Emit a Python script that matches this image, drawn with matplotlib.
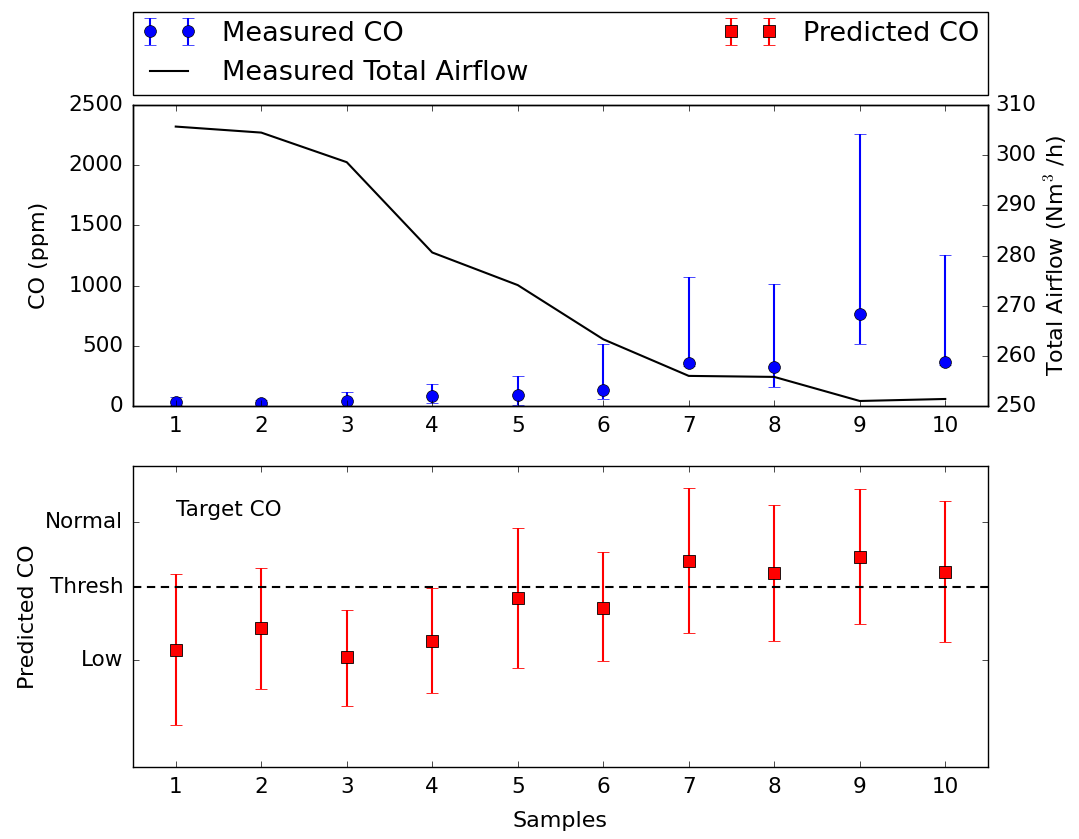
import matplotlib
matplotlib.use("Agg")
import matplotlib.pyplot as plt
import numpy as np

plt.style.use("classic")
plt.rcParams["font.family"] = ["DejaVu Sans"]
plt.rcParams["figure.facecolor"] = "white"
plt.rcParams["savefig.facecolor"] = "white"

samples = [1, 2, 3, 4, 5, 6, 7, 8, 9, 10]

# Measured CO (ppm) with asymmetric error ranges
co_measured = [30, 28, 40, 80, 91, 133, 354, 327, 762, 363]
co_err_low = [25, 20, 38, 53, 85, 78, 22, 169, 250, 25]
co_err_high = [45, 20, 74, 100, 158, 379, 720, 689, 1500, 894]

# Measured total airflow (Nm3/h)
airflow = [305.7, 304.5, 298.6, 280.6, 274.1, 263.3, 256.0, 255.8, 251.0, 251.4]

# Predicted CO level (relative index) with asymmetric error ranges
co_predicted = [38.9, 46.1, 36.4, 42.0, 56.3, 52.9, 68.5, 64.5, 69.9, 64.8]
pred_top = [64.0, 66.2, 52.1, 59.6, 79.5, 71.3, 92.8, 86.9, 92.4, 88.3]
pred_bottom = [14.0, 25.9, 20.4, 24.6, 32.8, 35.1, 44.6, 42.0, 47.5, 41.5]

level_ticks = [35.5, 59.9, 81.3]
level_labels = ["Low", "Thresh", "Normal"]
threshold = 59.9

TICK_FS = 15.5
LABEL_FS = 16

fig = plt.figure(figsize=(10.79, 8.39), dpi=100)
W, H = 1079, 839
left = 133 / W
width = (988 - 133) / W
ax1 = fig.add_axes([left, (H - 406) / H, width, 301 / H])
ax3 = fig.add_axes([left, (H - 767) / H, width, 301 / H])

# --- top panel: measured CO and airflow
h_co = ax1.errorbar(samples, co_measured, yerr=[co_err_low, co_err_high],
                    fmt="o", color="b", ecolor="b", markersize=8.5,
                    markeredgecolor="k", markeredgewidth=0.5,
                    elinewidth=1.5, capsize=4, capthick=1,
                    label="Measured CO")
ax1.set_xlim(0.5, 10.5)
ax1.set_ylim(0, 2500)
ax1.set_xticks(samples)
ax1.set_yticks([0, 500, 1000, 1500, 2000, 2500])
ax1.set_ylabel("CO (ppm)", fontsize=LABEL_FS, labelpad=14)
ax1.tick_params(labelsize=TICK_FS, pad=7)

ax2 = ax1.twinx()
h_air, = ax2.plot(samples, airflow, color="k", lw=1.5,
                  label="Measured Total Airflow")
ax2.set_ylim(250, 310)
ax2.set_xlim(0.5, 10.5)
ax2.set_ylabel("Total Airflow (Nm$^3$ /h)", fontsize=LABEL_FS, labelpad=5)
ax2.tick_params(labelsize=TICK_FS, pad=5)

# --- bottom panel: predicted CO levels
pred = np.array(co_predicted)
err_lo = pred - np.array(pred_bottom)
err_hi = np.array(pred_top) - pred
h_pred = ax3.errorbar(samples, co_predicted, yerr=[err_lo, err_hi],
                      fmt="s", color="r", ecolor="r", markersize=8.5,
                      markeredgecolor="k", markeredgewidth=0.6,
                      elinewidth=1.5, capsize=4, capthick=1,
                      label="Predicted CO")
ax3.axhline(threshold, color="k", ls="--", lw=1.5, dashes=(6, 4))
ax3.set_xlim(0.5, 10.5)
ax3.set_ylim(0, 100)
ax3.set_xticks(samples)
ax3.set_yticks(level_ticks)
ax3.set_yticklabels(level_labels)
ax3.tick_params(labelsize=TICK_FS, pad=7)
ax3.set_xlabel("Samples", fontsize=LABEL_FS, labelpad=10)
ax3.set_ylabel("Predicted CO", fontsize=LABEL_FS, labelpad=5)
ax3.text(1.0, 85.4, "Target CO", fontsize=TICK_FS, va="center", ha="left")

fig.legend([h_co, h_air, h_pred],
           ["Measured CO", "Measured Total Airflow", "Predicted CO"],
           loc="upper left", ncol=2, mode="expand",
           bbox_to_anchor=(left, (H - 92) / H, width, 80 / H),
           bbox_transform=fig.transFigure, fontsize=19.5,
           numpoints=2, borderaxespad=0.0, frameon=True,
           handlelength=2.0, handletextpad=0.95, labelspacing=0.5,
           borderpad=0.33)

fig.savefig("out.png", dpi=100)
